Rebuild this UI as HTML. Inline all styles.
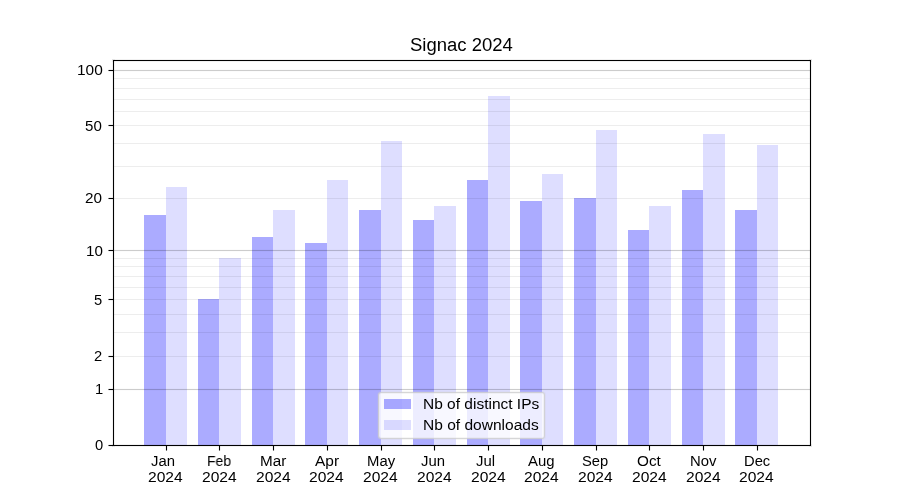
<!DOCTYPE html>
<html lang="en">
<head>
<meta charset="utf-8">
<title>Signac 2024</title>
<style>
html,body{margin:0;padding:0;background:#fff}
#fig{position:relative;width:900px;height:500px;background:#fff;overflow:hidden;font-family:"Liberation Sans",sans-serif;color:#000}
#fig div{position:absolute}
.d{background:#ababff}
.l{background:#dedeff}
.gM{left:114px;width:696px;height:1px;background:rgba(0,0,0,.2)}
.gMf{left:114px;width:696px;height:1px;background:rgba(0,0,0,.012)}
.gm{left:114px;width:696px;height:1px;background:rgba(0,0,0,.07)}
.k{background:#000}
.kf{background:rgba(0,0,0,.055)}
.t{white-space:pre;line-height:1;transform-origin:0 0;will-change:transform}
#leg{left:378px;top:392px;width:167px;height:47px;box-sizing:border-box;background:linear-gradient(rgba(255,255,255,.656),rgba(255,255,255,.656)) padding-box,linear-gradient(rgba(255,255,255,.39),rgba(255,255,255,.39)) border-box;border:1px solid rgba(204,204,204,.8);border-radius:3px;box-shadow:0 0 0 1px rgba(204,204,204,.17),inset 0 0 0 1px rgba(204,204,204,.17)}

</style>
</head>
<body>
<div id="fig">
<div class="d" style="left:144px;top:215px;width:22px;height:230px"></div>
<div class="l" style="left:166px;top:187px;width:21px;height:258px"></div>
<div class="d" style="left:198px;top:299px;width:21px;height:146px"></div>
<div class="l" style="left:219px;top:258px;width:22px;height:187px"></div>
<div class="d" style="left:252px;top:237px;width:21px;height:208px"></div>
<div class="l" style="left:273px;top:210px;width:22px;height:235px"></div>
<div class="d" style="left:305px;top:243px;width:22px;height:202px"></div>
<div class="l" style="left:327px;top:180px;width:21px;height:265px"></div>
<div class="d" style="left:359px;top:210px;width:22px;height:235px"></div>
<div class="l" style="left:381px;top:141px;width:21px;height:304px"></div>
<div class="d" style="left:413px;top:220px;width:21px;height:225px"></div>
<div class="l" style="left:434px;top:206px;width:22px;height:239px"></div>
<div class="d" style="left:467px;top:180px;width:21px;height:265px"></div>
<div class="l" style="left:488px;top:96px;width:22px;height:349px"></div>
<div class="d" style="left:520px;top:201px;width:22px;height:244px"></div>
<div class="l" style="left:542px;top:174px;width:21px;height:271px"></div>
<div class="d" style="left:574px;top:198px;width:22px;height:247px"></div>
<div class="l" style="left:596px;top:130px;width:21px;height:315px"></div>
<div class="d" style="left:628px;top:230px;width:21px;height:215px"></div>
<div class="l" style="left:649px;top:206px;width:22px;height:239px"></div>
<div class="d" style="left:682px;top:190px;width:21px;height:255px"></div>
<div class="l" style="left:703px;top:134px;width:22px;height:311px"></div>
<div class="d" style="left:735px;top:210px;width:22px;height:235px"></div>
<div class="l" style="left:757px;top:145px;width:21px;height:300px"></div>
<div class="gMf" style="top:69px"></div><div class="gM" style="top:70px"></div><div class="gMf" style="top:71px"></div>
<div class="gMf" style="top:249px"></div><div class="gM" style="top:250px"></div><div class="gMf" style="top:251px"></div>
<div class="gMf" style="top:388px"></div><div class="gM" style="top:389px"></div><div class="gMf" style="top:390px"></div>
<div class="gm" style="top:78px"></div>
<div class="gm" style="top:88px"></div>
<div class="gm" style="top:99px"></div>
<div class="gm" style="top:111px"></div>
<div class="gm" style="top:125px"></div>
<div class="gm" style="top:143px"></div>
<div class="gm" style="top:166px"></div>
<div class="gm" style="top:198px"></div>
<div class="gm" style="top:258px"></div>
<div class="gm" style="top:266px"></div>
<div class="gm" style="top:276px"></div>
<div class="gm" style="top:287px"></div>
<div class="gm" style="top:299px"></div>
<div class="gm" style="top:314px"></div>
<div class="gm" style="top:332px"></div>
<div class="gm" style="top:356px"></div>
<div class="kf" style="left:112px;top:59px;width:700px;height:3px"></div>
<div class="kf" style="left:112px;top:444px;width:700px;height:3px"></div>
<div class="kf" style="left:112px;top:59px;width:3px;height:388px"></div>
<div class="kf" style="left:809px;top:59px;width:3px;height:388px"></div>
<div class="k" style="left:113px;top:60px;width:698px;height:1px"></div>
<div class="k" style="left:113px;top:445px;width:698px;height:1px"></div>
<div class="k" style="left:113px;top:60px;width:1px;height:386px"></div>
<div class="k" style="left:810px;top:60px;width:1px;height:386px"></div>
<div class="kf" style="left:109px;top:444px;width:4px;height:3px"></div><div class="kf" style="left:108px;top:444px;width:1px;height:3px;opacity:.5"></div>
<div class="k" style="left:109px;top:445px;width:4px;height:1px"></div><div class="k" style="left:108px;top:445px;width:1px;height:1px;opacity:.5"></div>
<div class="kf" style="left:109px;top:388px;width:4px;height:3px"></div><div class="kf" style="left:108px;top:388px;width:1px;height:3px;opacity:.5"></div>
<div class="k" style="left:109px;top:389px;width:4px;height:1px"></div><div class="k" style="left:108px;top:389px;width:1px;height:1px;opacity:.5"></div>
<div class="kf" style="left:109px;top:355px;width:4px;height:3px"></div><div class="kf" style="left:108px;top:355px;width:1px;height:3px;opacity:.5"></div>
<div class="k" style="left:109px;top:356px;width:4px;height:1px"></div><div class="k" style="left:108px;top:356px;width:1px;height:1px;opacity:.5"></div>
<div class="kf" style="left:109px;top:298px;width:4px;height:3px"></div><div class="kf" style="left:108px;top:298px;width:1px;height:3px;opacity:.5"></div>
<div class="k" style="left:109px;top:299px;width:4px;height:1px"></div><div class="k" style="left:108px;top:299px;width:1px;height:1px;opacity:.5"></div>
<div class="kf" style="left:109px;top:249px;width:4px;height:3px"></div><div class="kf" style="left:108px;top:249px;width:1px;height:3px;opacity:.5"></div>
<div class="k" style="left:109px;top:250px;width:4px;height:1px"></div><div class="k" style="left:108px;top:250px;width:1px;height:1px;opacity:.5"></div>
<div class="kf" style="left:109px;top:197px;width:4px;height:3px"></div><div class="kf" style="left:108px;top:197px;width:1px;height:3px;opacity:.5"></div>
<div class="k" style="left:109px;top:198px;width:4px;height:1px"></div><div class="k" style="left:108px;top:198px;width:1px;height:1px;opacity:.5"></div>
<div class="kf" style="left:109px;top:124px;width:4px;height:3px"></div><div class="kf" style="left:108px;top:124px;width:1px;height:3px;opacity:.5"></div>
<div class="k" style="left:109px;top:125px;width:4px;height:1px"></div><div class="k" style="left:108px;top:125px;width:1px;height:1px;opacity:.5"></div>
<div class="kf" style="left:109px;top:69px;width:4px;height:3px"></div><div class="kf" style="left:108px;top:69px;width:1px;height:3px;opacity:.5"></div>
<div class="k" style="left:109px;top:70px;width:4px;height:1px"></div><div class="k" style="left:108px;top:70px;width:1px;height:1px;opacity:.5"></div>
<div class="kf" style="left:165px;top:446px;width:3px;height:4px"></div><div class="kf" style="left:165px;top:450px;width:3px;height:1px;opacity:.5"></div>
<div class="k" style="left:166px;top:446px;width:1px;height:4px"></div><div class="k" style="left:166px;top:450px;width:1px;height:1px;opacity:.5"></div>
<div class="kf" style="left:218px;top:446px;width:3px;height:4px"></div><div class="kf" style="left:218px;top:450px;width:3px;height:1px;opacity:.5"></div>
<div class="k" style="left:219px;top:446px;width:1px;height:4px"></div><div class="k" style="left:219px;top:450px;width:1px;height:1px;opacity:.5"></div>
<div class="kf" style="left:272px;top:446px;width:3px;height:4px"></div><div class="kf" style="left:272px;top:450px;width:3px;height:1px;opacity:.5"></div>
<div class="k" style="left:273px;top:446px;width:1px;height:4px"></div><div class="k" style="left:273px;top:450px;width:1px;height:1px;opacity:.5"></div>
<div class="kf" style="left:326px;top:446px;width:3px;height:4px"></div><div class="kf" style="left:326px;top:450px;width:3px;height:1px;opacity:.5"></div>
<div class="k" style="left:327px;top:446px;width:1px;height:4px"></div><div class="k" style="left:327px;top:450px;width:1px;height:1px;opacity:.5"></div>
<div class="kf" style="left:380px;top:446px;width:3px;height:4px"></div><div class="kf" style="left:380px;top:450px;width:3px;height:1px;opacity:.5"></div>
<div class="k" style="left:381px;top:446px;width:1px;height:4px"></div><div class="k" style="left:381px;top:450px;width:1px;height:1px;opacity:.5"></div>
<div class="kf" style="left:433px;top:446px;width:3px;height:4px"></div><div class="kf" style="left:433px;top:450px;width:3px;height:1px;opacity:.5"></div>
<div class="k" style="left:434px;top:446px;width:1px;height:4px"></div><div class="k" style="left:434px;top:450px;width:1px;height:1px;opacity:.5"></div>
<div class="kf" style="left:487px;top:446px;width:3px;height:4px"></div><div class="kf" style="left:487px;top:450px;width:3px;height:1px;opacity:.5"></div>
<div class="k" style="left:488px;top:446px;width:1px;height:4px"></div><div class="k" style="left:488px;top:450px;width:1px;height:1px;opacity:.5"></div>
<div class="kf" style="left:541px;top:446px;width:3px;height:4px"></div><div class="kf" style="left:541px;top:450px;width:3px;height:1px;opacity:.5"></div>
<div class="k" style="left:542px;top:446px;width:1px;height:4px"></div><div class="k" style="left:542px;top:450px;width:1px;height:1px;opacity:.5"></div>
<div class="kf" style="left:595px;top:446px;width:3px;height:4px"></div><div class="kf" style="left:595px;top:450px;width:3px;height:1px;opacity:.5"></div>
<div class="k" style="left:596px;top:446px;width:1px;height:4px"></div><div class="k" style="left:596px;top:450px;width:1px;height:1px;opacity:.5"></div>
<div class="kf" style="left:648px;top:446px;width:3px;height:4px"></div><div class="kf" style="left:648px;top:450px;width:3px;height:1px;opacity:.5"></div>
<div class="k" style="left:649px;top:446px;width:1px;height:4px"></div><div class="k" style="left:649px;top:450px;width:1px;height:1px;opacity:.5"></div>
<div class="kf" style="left:702px;top:446px;width:3px;height:4px"></div><div class="kf" style="left:702px;top:450px;width:3px;height:1px;opacity:.5"></div>
<div class="k" style="left:703px;top:446px;width:1px;height:4px"></div><div class="k" style="left:703px;top:450px;width:1px;height:1px;opacity:.5"></div>
<div class="kf" style="left:756px;top:446px;width:3px;height:4px"></div><div class="kf" style="left:756px;top:450px;width:3px;height:1px;opacity:.5"></div>
<div class="k" style="left:757px;top:446px;width:1px;height:4px"></div><div class="k" style="left:757px;top:450px;width:1px;height:1px;opacity:.5"></div>
<div id="leg"></div>
<div style="left:384px;top:399px;width:27px;height:10px;background:rgba(0,0,255,.33)"></div>
<div style="left:384px;top:420px;width:27px;height:10px;background:rgba(0,0,255,.13)"></div>
<div class="t" id="title" style="left:410px;top:37px;font-size:17.66px;transform:scaleX(1.0478)">Signac 2024</div>
<div class="t" id="y0" style="left:95px;top:438px;font-size:14.72px;transform:scaleX(1.0)">0</div>
<div class="t" id="y1" style="left:95px;top:382px;font-size:14.72px;transform:scaleX(0.9447)">1</div>
<div class="t" id="y2" style="left:94px;top:349px;font-size:14.72px;transform:scaleX(0.9819)">2</div>
<div class="t" id="y5" style="left:94px;top:293px;font-size:14.72px;transform:scaleX(0.9468)">5</div>
<div class="t" id="y10" style="left:86px;top:244px;font-size:14.72px;transform:scaleX(1.0313)">10</div>
<div class="t" id="y20" style="left:85px;top:191px;font-size:14.72px;transform:scaleX(1.0367)">20</div>
<div class="t" id="y50" style="left:85px;top:119px;font-size:14.72px;transform:scaleX(1.0248)">50</div>
<div class="t" id="y100" style="left:77px;top:63px;font-size:14.72px;transform:scaleX(1.0492)">100</div>
<div class="t" id="leg1" style="left:423px;top:397px;font-size:14.72px;transform:scaleX(1.0525)">Nb of distinct IPs</div>
<div class="t" id="leg2" style="left:423px;top:418px;font-size:14.72px;transform:scaleX(1.0553)">Nb of downloads</div>
<div class="t" id="mJan" style="left:151px;top:454px;font-size:14.72px;transform:scaleX(1.01)">Jan</div>
<div class="t" id="yrJan" style="left:148px;top:470px;font-size:14.72px;transform:scaleX(1.0595)">2024</div>
<div class="t" id="mFeb" style="left:207px;top:454px;font-size:14.72px;transform:scaleX(0.9468)">Feb</div>
<div class="t" id="yrFeb" style="left:202px;top:470px;font-size:14.72px;transform:scaleX(1.0595)">2024</div>
<div class="t" id="mMar" style="left:260px;top:454px;font-size:14.72px;transform:scaleX(1.0367)">Mar</div>
<div class="t" id="yrMar" style="left:256px;top:470px;font-size:14.72px;transform:scaleX(1.0595)">2024</div>
<div class="t" id="mApr" style="left:315px;top:454px;font-size:14.72px;transform:scaleX(1.0503)">Apr</div>
<div class="t" id="yrApr" style="left:309px;top:470px;font-size:14.72px;transform:scaleX(1.0595)">2024</div>
<div class="t" id="mMay" style="left:367px;top:454px;font-size:14.72px;transform:scaleX(1.0099)">May</div>
<div class="t" id="yrMay" style="left:363px;top:470px;font-size:14.72px;transform:scaleX(1.0595)">2024</div>
<div class="t" id="mJun" style="left:421px;top:454px;font-size:14.72px;transform:scaleX(1.01)">Jun</div>
<div class="t" id="yrJun" style="left:417px;top:470px;font-size:14.72px;transform:scaleX(1.0595)">2024</div>
<div class="t" id="mJul" style="left:476px;top:454px;font-size:14.72px;transform:scaleX(1.01)">Jul</div>
<div class="t" id="yrJul" style="left:471px;top:470px;font-size:14.72px;transform:scaleX(1.0595)">2024</div>
<div class="t" id="mAug" style="left:528px;top:454px;font-size:14.72px;transform:scaleX(1.013)">Aug</div>
<div class="t" id="yrAug" style="left:524px;top:470px;font-size:14.72px;transform:scaleX(1.0595)">2024</div>
<div class="t" id="mSep" style="left:582px;top:454px;font-size:14.72px;transform:scaleX(0.9825)">Sep</div>
<div class="t" id="yrSep" style="left:578px;top:470px;font-size:14.72px;transform:scaleX(1.0595)">2024</div>
<div class="t" id="mOct" style="left:637px;top:454px;font-size:14.72px;transform:scaleX(1.0383)">Oct</div>
<div class="t" id="yrOct" style="left:632px;top:470px;font-size:14.72px;transform:scaleX(1.0595)">2024</div>
<div class="t" id="mNov" style="left:690px;top:454px;font-size:14.72px;transform:scaleX(1.0107)">Nov</div>
<div class="t" id="yrNov" style="left:686px;top:470px;font-size:14.72px;transform:scaleX(1.0595)">2024</div>
<div class="t" id="mDec" style="left:744px;top:454px;font-size:14.72px;transform:scaleX(1.0019)">Dec</div>
<div class="t" id="yrDec" style="left:739px;top:470px;font-size:14.72px;transform:scaleX(1.0595)">2024</div>
</div>
</body>
</html>
